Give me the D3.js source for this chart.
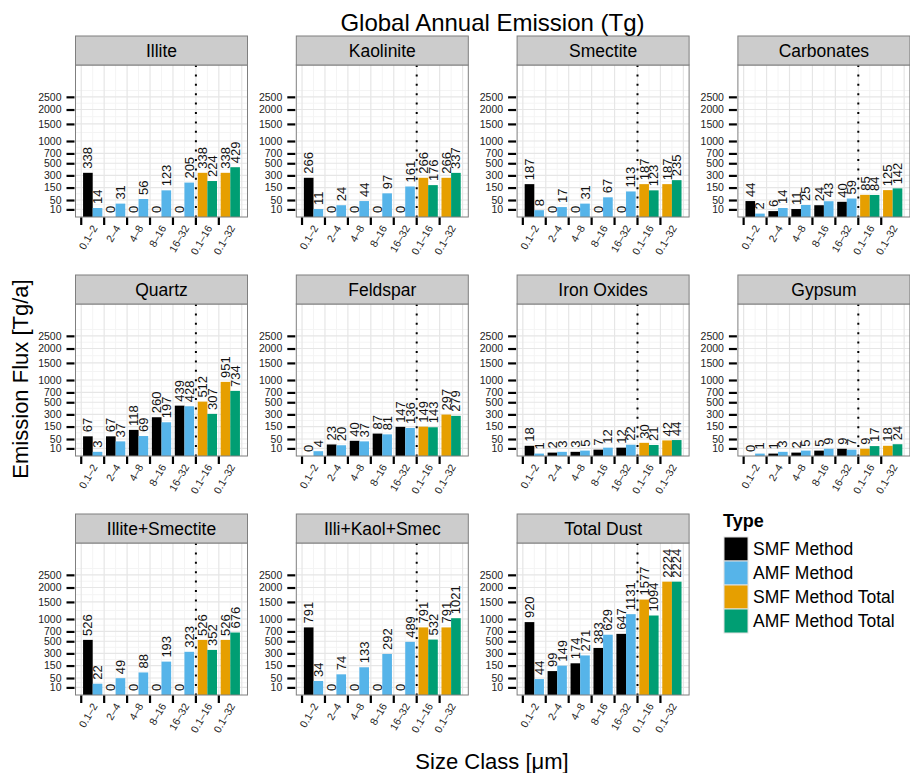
<!DOCTYPE html>
<html>
<head>
<meta charset="utf-8">
<script src="https://cdn.jsdelivr.net/npm/d3@7"></script>
<style>
  body { margin: 0; background: #fff; }
  text { font-family: "Liberation Sans", Arial, sans-serif; }
</style>
</head>
<body>
<div id="chart"></div>
<script>
const categories = ["0.1–2", "2–4", "4–8", "8–16", "16–32", "0.1–16", "0.1–32"];
const panels = ["Illite", "Kaolinite", "Smectite", "Carbonates", "Quartz", "Feldspar",
  "Iron Oxides", "Gypsum", "Illite+Smectite", "Illi+Kaol+Smec", "Total Dust"];
const types = ["SMF Method", "AMF Method", "SMF Method Total", "AMF Method Total"];
const colors = ["#000000", "#56B4E9", "#E69F00", "#009E73"];
const yTicks = [10, 50, 150, 300, 500, 700, 1000, 1500, 2000, 2500];

// per size class 0.1-2 ... 16-32
const smf = [
  [338, 0, 0, 0, 0],
  [266, 0, 0, 0, 0],
  [187, 0, 0, 0, 0],
  [44, 6, 11, 24, 40],
  [67, 67, 118, 260, 439],
  [0, 23, 40, 87, 147],
  [18, 2, 3, 7, 12],
  [0, 1, 2, 5, 9],
  [526, 0, 0, 0, 0],
  [791, 0, 0, 0, 0],
  [920, 99, 174, 383, 647]
];
const amf = [
  [14, 31, 56, 123, 205],
  [11, 24, 44, 97, 161],
  [8, 17, 31, 67, 113],
  [2, 14, 25, 43, 59],
  [3, 37, 69, 197, 428],
  [4, 20, 37, 81, 136],
  [1, 3, 5, 12, 22],
  [1, 3, 5, 9, 7],
  [22, 49, 88, 193, 323],
  [34, 74, 133, 292, 489],
  [44, 149, 271, 629, 1131]
];
// totals for 0.1-16 and 0.1-32
const smfTotal = [
  [338, 338], [266, 266], [187, 187], [85, 125], [512, 951], [149, 297],
  [30, 42], [9, 18], [526, 526], [791, 791], [1577, 2224]
];
const amfTotal = [
  [224, 429], [176, 337], [123, 235], [84, 142], [307, 734], [143, 279],
  [21, 44], [17, 24], [352, 676], [532, 1021], [1094, 2224]
];

const pw = 172, ph = 152, stripH = 29;
const colX = c => 75.5 + c * 220.8;
const rowY = r => 65 + r * 239;

const svg = d3.select("#chart")
  .append("svg")
  .attr("width", 910)
  .attr("height", 773);

const x = d3.scaleBand()
  .domain(categories)
  .range([0, pw])
  .paddingInner(0.16)
  .paddingOuter(0.33);

const sub = d3.scaleBand()
  .domain([0, 1])
  .range([0, x.bandwidth()]);

const y = d3.scaleSqrt()
  .domain([0, 4000])
  .range([ph, 0]);

// boundaries between size classes (ticks and major vertical grid)
const edge = i => i < categories.length
  ? x(categories[i]) - x.step() * x.paddingInner() / 2
  : x(categories[categories.length - 1]) + x.bandwidth() + x.step() * x.paddingInner() / 2;
const edges = d3.range(categories.length + 1).map(edge);

// minor horizontal grid at midpoints (sqrt space)
const ySq = yTicks.map(v => Math.sqrt(v));
const minorSq = ySq.slice(1).map((s, i) => (s + ySq[i]) / 2);
minorSq.push(ySq[ySq.length - 1] + (ySq[ySq.length - 1] - ySq[ySq.length - 2]) / 2);

panels.forEach((name, i) => {
  const c = i % 4, r = Math.floor(i / 4);
  const g = svg.append("g").attr("transform", `translate(${colX(c)},${rowY(r)})`);

  const rows = categories.map((cat, j) => j < 5
    ? [{ cat, s: 0, v: smf[i][j], t: 0 }, { cat, s: 1, v: amf[i][j], t: 1 }]
    : [{ cat, s: 0, v: smfTotal[i][j - 5], t: 2 }, { cat, s: 1, v: amfTotal[i][j - 5], t: 3 }]
  ).flat();

  g.append("rect")
    .attr("width", pw).attr("height", ph)
    .attr("fill", "#fff");

  // grid
  g.selectAll(".hminor").data(minorSq).join("line")
    .attr("x1", 0).attr("x2", pw)
    .attr("y1", d => y(d * d)).attr("y2", d => y(d * d))
    .attr("stroke", "#f4f4f4").attr("stroke-width", 1);
  g.selectAll(".vminor").data(categories).join("line")
    .attr("x1", d => x(d) + x.bandwidth() / 2).attr("x2", d => x(d) + x.bandwidth() / 2)
    .attr("y1", 0).attr("y2", ph)
    .attr("stroke", "#f4f4f4").attr("stroke-width", 1);
  g.selectAll(".hmajor").data(yTicks).join("line")
    .attr("x1", 0).attr("x2", pw)
    .attr("y1", d => y(d)).attr("y2", d => y(d))
    .attr("stroke", "#e6e6e6").attr("stroke-width", 1.2);
  g.selectAll(".vmajor").data(edges).join("line")
    .attr("x1", d => d).attr("x2", d => d)
    .attr("y1", 0).attr("y2", ph)
    .attr("stroke", "#e6e6e6").attr("stroke-width", 1.2);

  // bars
  g.selectAll(".bar").data(rows).join("rect")
    .attr("x", d => x(d.cat) + sub(d.s))
    .attr("y", d => y(d.v))
    .attr("width", sub.bandwidth())
    .attr("height", d => ph - y(d.v))
    .attr("fill", d => colors[d.t]);

  // value labels
  g.selectAll(".lab").data(rows).join("text")
    .attr("transform", d => `translate(${x(d.cat) + sub(d.s) + sub.bandwidth() / 2},${y(d.v) - 4}) rotate(-90)`)
    .attr("dy", "0.35em")
    .attr("font-size", 13)
    .attr("fill", "#111")
    .text(d => d.v);

  // dotted separator
  g.append("line")
    .attr("x1", edges[5]).attr("x2", edges[5])
    .attr("y1", 0).attr("y2", ph)
    .attr("stroke", "#000")
    .attr("stroke-width", 2)
    .attr("stroke-dasharray", "2,7.4");

  // border
  g.append("rect")
    .attr("width", pw).attr("height", ph)
    .attr("fill", "none")
    .attr("stroke", "#7f7f7f").attr("stroke-width", 1);

  // strip
  g.append("rect")
    .attr("y", -stripH).attr("width", pw).attr("height", stripH)
    .attr("fill", "#cccccc")
    .attr("stroke", "#7f7f7f").attr("stroke-width", 1);
  g.append("text")
    .attr("x", pw / 2).attr("y", -stripH / 2)
    .attr("dy", "0.35em")
    .attr("text-anchor", "middle")
    .attr("font-size", 17.5)
    .text(name);

  // y axis
  const ya = g.append("g")
    .attr("transform", "translate(-1,0)")
    .call(d3.axisLeft(y).tickValues(yTicks).tickFormat(d3.format("d")).tickSize(8).tickPadding(5));
  ya.select(".domain").remove();
  ya.selectAll("line").attr("stroke", "#000").attr("stroke-width", 2.2);
  ya.selectAll("text").attr("font-size", 10.5).attr("fill", "#222");

  // x axis
  g.selectAll(".xt").data(edges.slice(0, categories.length)).join("line")
    .attr("x1", d => d).attr("x2", d => d)
    .attr("y1", ph + 0.5).attr("y2", ph + 8)
    .attr("stroke", "#000").attr("stroke-width", 2.2);
  g.selectAll(".xl").data(categories).join("text")
    .attr("transform", d => `translate(${x(d) + x.bandwidth() / 2 + 2},${ph + 9}) rotate(-60)`)
    .attr("dy", "0.35em")
    .attr("text-anchor", "end")
    .attr("font-size", 10.5)
    .attr("fill", "#222")
    .text(d => d);
});

// titles
svg.append("text")
  .attr("x", 492.5).attr("y", 31)
  .attr("text-anchor", "middle")
  .attr("font-size", 24)
  .text("Global Annual Emission (Tg)");

svg.append("text")
  .attr("x", 492).attr("y", 769)
  .attr("text-anchor", "middle")
  .attr("font-size", 22)
  .text("Size Class [μm]");

svg.append("text")
  .attr("transform", "translate(28,379) rotate(-90)")
  .attr("text-anchor", "middle")
  .attr("font-size", 22)
  .text("Emission Flux [Tg/a]");

// legend
const legend = svg.append("g").attr("transform", "translate(724,537)");
legend.append("text")
  .attr("x", -1).attr("y", -10)
  .attr("font-size", 18)
  .attr("font-weight", "bold")
  .text("Type");
legend.selectAll(".key").data(types).join("rect")
  .attr("x", 0).attr("y", (d, i) => i * 24)
  .attr("width", 24).attr("height", 24)
  .attr("fill", (d, i) => colors[i])
  .attr("stroke", "#e0e0e0").attr("stroke-width", 1);
legend.selectAll(".lt").data(types).join("text")
  .attr("x", 29).attr("y", (d, i) => i * 24 + 12)
  .attr("dy", "0.35em")
  .attr("font-size", 17.5)
  .text(d => d);
</script>
</body>
</html>
